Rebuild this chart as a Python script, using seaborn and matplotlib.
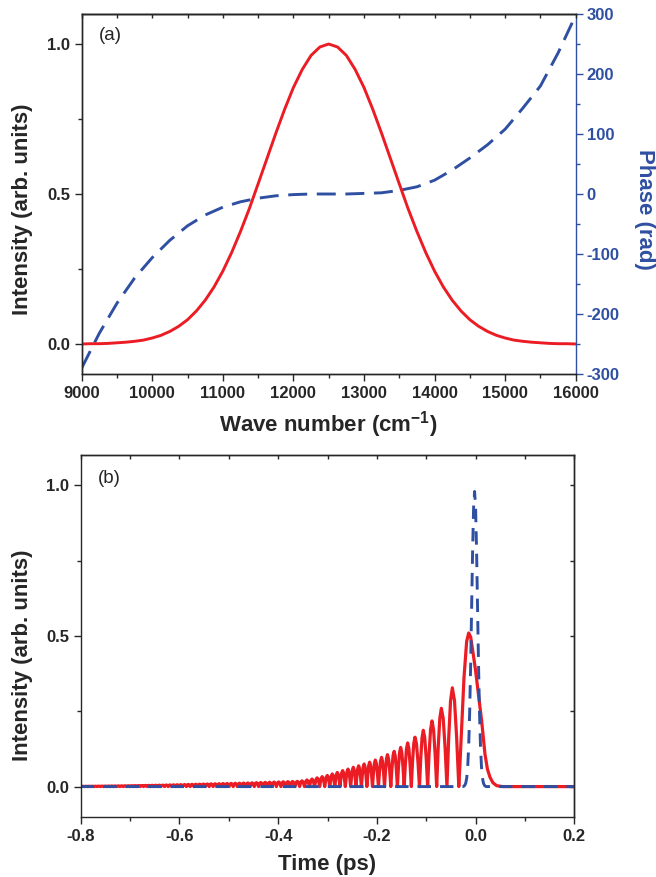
import numpy as np
import pandas as pd
import matplotlib
matplotlib.use("Agg")
import matplotlib.pyplot as plt
import seaborn as sns
from matplotlib.ticker import FixedLocator, FixedFormatter

# ---------------- data: panel (a) ----------------
wn_a = [9000, 9125, 9250, 9375, 9500, 9625, 9750, 9875, 10000, 10125, 10250, 10375,
        10500, 10625, 10750, 10875, 11000, 11125, 11250, 11375, 11500, 11625, 11750,
        11875, 12000, 12125, 12250, 12375, 12500, 12625, 12750, 12875, 13000, 13125,
        13250, 13375, 13500, 13625, 13750, 13875, 14000, 14125, 14250, 14375, 14500,
        14625, 14750, 14875, 15000, 15125, 15250, 15375, 15500, 15625, 15750, 15875, 16000]
int_a = [0.000, 0.001, 0.001, 0.002, 0.004, 0.006, 0.009, 0.013, 0.020, 0.029, 0.042, 0.059,
         0.081, 0.110, 0.146, 0.190, 0.243, 0.305, 0.375, 0.451, 0.534, 0.618, 0.702,
         0.782, 0.855, 0.915, 0.962, 0.990, 1.000, 0.990, 0.962, 0.915, 0.855, 0.782,
         0.702, 0.618, 0.534, 0.451, 0.375, 0.305, 0.243, 0.190, 0.146, 0.110, 0.081,
         0.059, 0.042, 0.029, 0.020, 0.013, 0.009, 0.006, 0.004, 0.002, 0.001, 0.001, 0.000]

wn_phase = [9000, 9250, 9500, 9750, 10000, 10250, 10500, 10750, 11000, 11250, 11500,
            11750, 12000, 12250, 12500, 12750, 13000, 13250, 13500, 13750, 14000, 14250,
            14500, 14750, 15000, 15250, 15500, 15750, 16000]
phase_a = [-290, -232, -182, -140, -106, -77, -53, -35, -22, -13, -7,
           -3, -1, 0, 0, 0, 1, 2, 6, 12, 23, 40,
           60, 82, 108, 143, 180, 235, 298]

# ---------------- data: panel (b) ----------------
# fringe peaks of the chirped pulse (time in ps, intensity)
fringe_t = [-0.7954, -0.7890, -0.7826, -0.7762, -0.7697, -0.7632, -0.7567, -0.7502, -0.7436, -0.7370,
            -0.7304, -0.7237, -0.7170, -0.7103, -0.7035, -0.6967, -0.6899, -0.6830, -0.6761, -0.6691,
            -0.6621, -0.6551, -0.6480, -0.6409, -0.6337, -0.6265, -0.6192, -0.6119, -0.6045, -0.5971,
            -0.5896, -0.5821, -0.5745, -0.5669, -0.5592, -0.5514, -0.5436, -0.5357, -0.5277, -0.5197,
            -0.5116, -0.5034, -0.4952, -0.4869, -0.4785, -0.4700, -0.4614, -0.4528, -0.4441, -0.4352,
            -0.4263, -0.4173, -0.4082, -0.3990, -0.3897, -0.3803, -0.3708, -0.3613,
            -0.3517, -0.3416, -0.3314, -0.3210, -0.3108, -0.3004, -0.2903, -0.2801, -0.2693, -0.2585,
            -0.2477, -0.2369, -0.2258, -0.2146, -0.2031, -0.1905, -0.1785, -0.1650, -0.1518, -0.1376,
            -0.1228]
fringe_i = [0.0010, 0.0011, 0.0012, 0.0013, 0.0014, 0.0015, 0.0016, 0.0017, 0.0019, 0.0020,
            0.0021, 0.0023, 0.0024, 0.0026, 0.0028, 0.0030, 0.0032, 0.0034, 0.0036, 0.0038,
            0.0040, 0.0043, 0.0045, 0.0048, 0.0050, 0.0053, 0.0056, 0.0059, 0.0062, 0.0065,
            0.0068, 0.0071, 0.0074, 0.0077, 0.0080, 0.0083, 0.0086, 0.0090, 0.0093, 0.0096,
            0.0100, 0.0103, 0.0106, 0.0110, 0.0113, 0.0117, 0.0120, 0.0125, 0.0130, 0.0135,
            0.0140, 0.0145, 0.0150, 0.0155, 0.0160, 0.0165, 0.0170, 0.0175,
            0.019, 0.022, 0.025, 0.029, 0.033, 0.037, 0.042, 0.047, 0.053, 0.058,
            0.064, 0.069, 0.075, 0.081, 0.088, 0.097, 0.106, 0.117, 0.130, 0.145,
            0.164]
# last fringes and main peak, sampled densely
near_t = [-0.1137, -0.1111, -0.1085, -0.1059, -0.1030, -0.1000, -0.0971, -0.0942, -0.0912, -0.0883,
          -0.0851, -0.0820, -0.0788, -0.0757, -0.0725, -0.0694, -0.0656, -0.0618, -0.0580, -0.0544,
          -0.0507, -0.0471, -0.0427, -0.0384, -0.0340, -0.0315, -0.0282, -0.0235, -0.0181, -0.0140,
          -0.0100, -0.0046, 0.0000, 0.0042, 0.0090, 0.0123, 0.0190, 0.0240, 0.0292, 0.0350,
          0.0427, 0.0550, 0.2000]
near_i = [0.000, 0.093, 0.162, 0.187, 0.162, 0.093, 0.000, 0.109, 0.189, 0.218,
          0.189, 0.109, 0.000, 0.130, 0.226, 0.260, 0.226, 0.130, 0.000, 0.164,
          0.285, 0.328, 0.285, 0.164, 0.000, 0.080, 0.196, 0.361, 0.482, 0.510,
          0.497, 0.438, 0.385, 0.328, 0.265, 0.218, 0.108, 0.058, 0.031, 0.013,
          0.003, 0.000, 0.000]

# transform-limited pulse
tl_t = [-0.8, -0.026, -0.024, -0.022, -0.020, -0.018, -0.016, -0.014, -0.012, -0.010, -0.008,
        -0.006, -0.004, -0.002, 0.000, 0.002, 0.004, 0.006, 0.008, 0.010, 0.012, 0.014,
        0.016, 0.018, 0.020, 0.022, 0.2]
tl_i = [0.0, 0.0, 0.001, 0.004, 0.011, 0.028, 0.064, 0.133, 0.244, 0.403, 0.594,
        0.785, 0.927, 0.980, 0.927, 0.785, 0.594, 0.403, 0.244, 0.133, 0.064, 0.028,
        0.011, 0.004, 0.001, 0.0, 0.0]

# ticks
xt_a = [9000, 10000, 11000, 12000, 13000, 14000, 15000, 16000]
xt_a_lab = ["9000", "10000", "11000", "12000", "13000", "14000", "15000", "16000"]
yt = [0.0, 0.5, 1.0]
yt_lab = ["0.0", "0.5", "1.0"]
pt = [-300, -200, -100, 0, 100, 200, 300]
pt_lab = ["-300", "-200", "-100", "0", "100", "200", "300"]
xt_b = [-0.8, -0.6, -0.4, -0.2, 0.0, 0.2]
xt_b_lab = ["-0.8", "-0.6", "-0.4", "-0.2", "0.0", "0.2"]

RED = "#EC1C24"
BLUE = "#2F4FA2"

# ---------------- build the chirped-pulse polyline ----------------
# each fringe drawn as a rounded hump (sharp minima) between its neighbouring minima
edges = [-0.8] + [(a + b) / 2 for a, b in zip(fringe_t[:-1], fringe_t[1:])] + [near_t[0]]
tb, ib = [], []
for k, (tp, ip) in enumerate(zip(fringe_t, fringe_i)):
    z0, z1 = edges[k], edges[k + 1]
    tb += [z0, z0 + (tp - z0) / 3, z0 + 2 * (tp - z0) / 3, tp,
           tp + (z1 - tp) / 3, tp + 2 * (z1 - tp) / 3]
    ib += [0.0, 0.5 * ip, 0.87 * ip, ip, 0.87 * ip, 0.5 * ip]
tb += near_t
ib += near_i

df_a = pd.DataFrame({"wn": wn_a, "I": int_a})
df_p = pd.DataFrame({"wn": wn_phase, "phi": phase_a})
df_b = pd.DataFrame({"t": tb, "I": ib})
df_tl = pd.DataFrame({"t": tl_t, "I": tl_i})

# ---------------- style ----------------
sns.set_style("ticks")
plt.rcParams["font.family"] = ["Liberation Sans", "DejaVu Sans"]
plt.rcParams["font.weight"] = "bold"
plt.rcParams["axes.labelweight"] = "bold"
plt.rcParams["axes.unicode_minus"] = False
plt.rcParams["mathtext.fontset"] = "custom"
plt.rcParams["mathtext.rm"] = "Liberation Sans:bold"
plt.rcParams["mathtext.default"] = "rm"
plt.rcParams["axes.linewidth"] = 1.0

W, H = 656, 877
fig = plt.figure(figsize=(W / 100, H / 100), dpi=100)
ax_a = fig.add_axes([81.7 / W, 1 - 374 / H, 494 / W, 360 / H])
ax_b = fig.add_axes([80.7 / W, 1 - 816.7 / H, 493.6 / W, 361.4 / H])

LW = 2.1
DASH_A = (6.5, 3.3)
DASH_B = (4.6, 3.1)
TICK_FS = 12
LABEL_FS = 16

# ---------------- panel (a) ----------------
ax_p = ax_a.twinx()
sns.lineplot(data=df_p, x="wn", y="phi", ax=ax_p, color=BLUE, linewidth=LW,
             estimator=None, errorbar=None)
ax_p.lines[0].set_dashes(DASH_A)
sns.lineplot(data=df_a, x="wn", y="I", ax=ax_a, color=RED, linewidth=LW,
             estimator=None, errorbar=None)
ax_a.set_zorder(ax_p.get_zorder() + 1)
ax_a.patch.set_visible(False)

ax_a.set_xlim(9000, 16000)
ax_a.set_ylim(-0.1, 1.1)
ax_p.set_ylim(-300, 300)
ax_a.spines["right"].set_visible(False)
ax_p.spines["right"].set_color(BLUE)
ax_p.spines["right"].set_linewidth(1.0)

ax_a.xaxis.set_major_locator(FixedLocator(xt_a))
ax_a.xaxis.set_major_formatter(FixedFormatter(xt_a_lab))
ax_a.xaxis.set_minor_locator(FixedLocator([9500, 10500, 11500, 12500, 13500, 14500, 15500]))
ax_a.yaxis.set_major_locator(FixedLocator(yt))
ax_a.yaxis.set_major_formatter(FixedFormatter(yt_lab))
ax_a.yaxis.set_minor_locator(FixedLocator([0.25, 0.75]))
ax_a.tick_params(which="major", direction="out", length=5, width=1, labelsize=TICK_FS,
                 pad=3.5, top=False, right=False)
ax_a.tick_params(which="minor", direction="out", length=3, width=1, top=False, right=False)

ax_p.yaxis.set_major_locator(FixedLocator(pt))
ax_p.yaxis.set_major_formatter(FixedFormatter(pt_lab))
ax_p.yaxis.set_minor_locator(FixedLocator([-250, -150, -50, 50, 150, 250]))
ax_p.tick_params(axis="y", which="major", direction="out", length=5, width=1,
                 color=BLUE, labelcolor=BLUE, labelsize=TICK_FS, pad=3)
ax_p.tick_params(axis="y", which="minor", direction="out", length=3, width=1, color=BLUE)
ax_p.set_xlabel("")

sec_a = ax_a.secondary_xaxis("top")
sec_a.xaxis.set_major_locator(FixedLocator(list(range(9000, 16001, 500))))
sec_a.tick_params(direction="in", length=3, width=1, labeltop=False)

ax_a.set_xlabel("Wave number (cm$^{-1}$)", fontsize=LABEL_FS, fontweight="bold")
ax_a.set_ylabel("Intensity (arb. units)", fontsize=LABEL_FS, fontweight="bold")
ax_a.xaxis.set_label_coords(0.5, -0.097)
ax_a.yaxis.set_label_coords(-0.099, 0.458)
ax_p.set_ylabel("Phase (rad)", fontsize=LABEL_FS, fontweight="bold", color=BLUE,
                rotation=270, va="bottom")
ax_p.yaxis.set_label_coords(1.118, 0.458)
ax_a.text(0.034, 0.94, "(a)", transform=ax_a.transAxes, fontsize=13.5,
          fontweight="normal", ha="left", va="center")

# ---------------- panel (b) ----------------
sns.lineplot(data=df_b, x="t", y="I", ax=ax_b, color=RED, linewidth=2.3,
             estimator=None, errorbar=None, sort=False)
sns.lineplot(data=df_tl, x="t", y="I", ax=ax_b, color=BLUE, linewidth=LW,
             estimator=None, errorbar=None, sort=False)
ax_b.lines[1].set_dashes(DASH_B)

ax_b.set_xlim(-0.8, 0.2)
ax_b.set_ylim(-0.1, 1.1)
ax_b.xaxis.set_major_locator(FixedLocator(xt_b))
ax_b.xaxis.set_major_formatter(FixedFormatter(xt_b_lab))
ax_b.xaxis.set_minor_locator(FixedLocator([-0.7, -0.5, -0.3, -0.1, 0.1]))
ax_b.yaxis.set_major_locator(FixedLocator(yt))
ax_b.yaxis.set_major_formatter(FixedFormatter(yt_lab))
ax_b.yaxis.set_minor_locator(FixedLocator([0.25, 0.75]))
ax_b.tick_params(which="major", direction="out", length=5, width=1, labelsize=TICK_FS,
                 pad=3.5, top=False, right=False)
ax_b.tick_params(which="minor", direction="out", length=3, width=1, top=False, right=False)

sec_bt = ax_b.secondary_xaxis("top")
sec_bt.xaxis.set_major_locator(FixedLocator([-0.8, -0.7, -0.6, -0.5, -0.4, -0.3, -0.2, -0.1, 0.0, 0.1, 0.2]))
sec_bt.tick_params(direction="in", length=3, width=1, labeltop=False)
sec_br = ax_b.secondary_yaxis("right")
sec_br.yaxis.set_major_locator(FixedLocator([0.0, 0.25, 0.5, 0.75, 1.0]))
sec_br.tick_params(direction="in", length=3, width=1, labelright=False)

ax_b.set_xlabel("Time (ps)", fontsize=LABEL_FS, fontweight="bold")
ax_b.set_ylabel("Intensity (arb. units)", fontsize=LABEL_FS, fontweight="bold")
ax_b.xaxis.set_label_coords(0.5, -0.104)
ax_b.yaxis.set_label_coords(-0.097, 0.447)
ax_b.text(0.034, 0.935, "(b)", transform=ax_b.transAxes, fontsize=13.5,
          fontweight="normal", ha="left", va="center")

fig.savefig("out.png", dpi=100)
